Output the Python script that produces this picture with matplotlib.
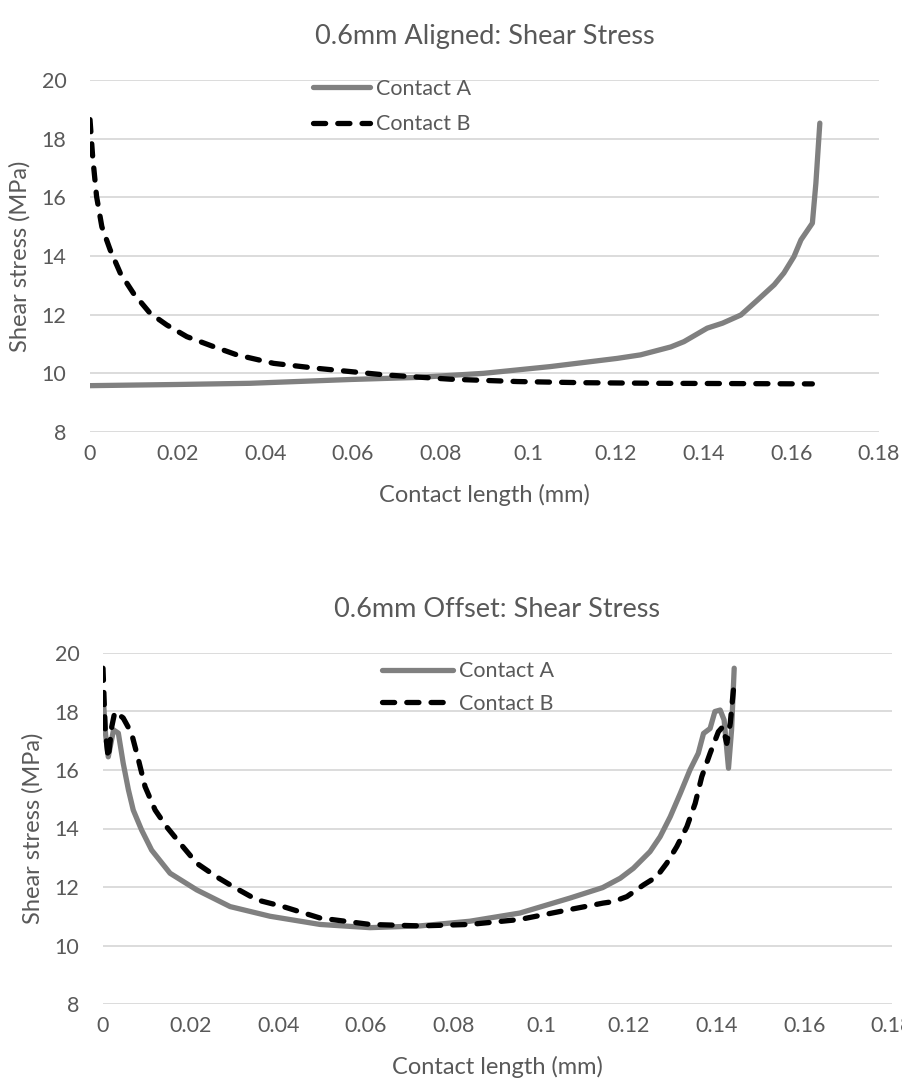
import matplotlib.pyplot as plt
import numpy as np

plt.rcParams['font.family'] = ['Lato', 'DejaVu Sans']

# 0.6mm Aligned
al_a_x = [0, 0.02, 0.0365, 0.0594, 0.0746, 0.0898, 0.105, 0.1203, 0.1256, 0.1325,
          0.1355, 0.1408, 0.1443, 0.1485, 0.1523, 0.1561, 0.1583, 0.1606, 0.1622,
          0.1648, 0.1656, 0.1665]
al_a_y = [9.58, 9.62, 9.66, 9.79, 9.86, 10.0, 10.23, 10.51, 10.63, 10.9,
          11.08, 11.54, 11.71, 11.99, 12.5, 13.02, 13.42, 13.98, 14.55,
          15.12, 16.48, 18.53]
al_b_x = [0, 0.0006, 0.0015, 0.0027, 0.0046, 0.0069, 0.0099, 0.0137, 0.0175, 0.0221,
          0.0282, 0.0335, 0.0419, 0.0518, 0.067, 0.0822, 0.0975, 0.1127, 0.1302, 0.1648]
al_b_y = [18.65, 17.4, 16.03, 15.0, 14.21, 13.42, 12.73, 12.05, 11.65, 11.25,
          10.91, 10.63, 10.34, 10.17, 9.95, 9.8, 9.72, 9.68, 9.66, 9.64]

# 0.6mm Offset
of_a_x = [0, 0.0006, 0.0012, 0.0024, 0.0035, 0.0046, 0.0058, 0.0069, 0.0088, 0.0111,
          0.0153, 0.0214, 0.029, 0.0381, 0.0495, 0.0609, 0.0723, 0.0837, 0.0951,
          0.1065, 0.114, 0.118, 0.121, 0.1248, 0.1271, 0.1294, 0.1317, 0.1339,
          0.1358, 0.137, 0.1385, 0.1396, 0.1408, 0.1417, 0.1427, 0.1434, 0.144]
of_a_y = [18.6, 17.2, 16.45, 17.37, 17.26, 16.24, 15.32, 14.63, 13.95, 13.26,
          12.47, 11.9, 11.33, 11.0, 10.72, 10.61, 10.67, 10.83, 11.11,
          11.62, 11.98, 12.3, 12.64, 13.21, 13.72, 14.4, 15.2, 16.0,
          16.57, 17.25, 17.42, 18.0, 18.05, 17.71, 16.06, 17.37, 19.48]
of_b_x = [0, 0.0005, 0.0012, 0.002, 0.0027, 0.0046, 0.0065, 0.0081, 0.0096, 0.0119,
          0.0145, 0.0176, 0.0214, 0.0259, 0.0297, 0.0351, 0.0411, 0.0495, 0.0609,
          0.0723, 0.0837, 0.0951, 0.1065, 0.1141, 0.1164, 0.1195, 0.1233, 0.1263,
          0.1286, 0.1309, 0.1332, 0.1351, 0.1366, 0.1385, 0.1404, 0.1414, 0.1423,
          0.1431, 0.144]
of_b_y = [19.48, 17.37, 16.4, 17.48, 17.99, 17.78, 17.26, 16.34, 15.43, 14.63,
          14.06, 13.49, 12.81, 12.35, 12.01, 11.56, 11.33, 10.94, 10.72,
          10.67, 10.72, 10.89, 11.23, 11.45, 11.5, 11.67, 12.07, 12.35,
          12.81, 13.38, 14.06, 14.86, 15.77, 16.57, 17.31, 17.48, 16.91,
          17.6, 19.02]

titles = ['0.6mm Aligned: Shear Stress', '0.6mm Offset: Shear Stress']
xticks = [0, 0.02, 0.04, 0.06, 0.08, 0.1, 0.12, 0.14, 0.16, 0.18]
xticklabels = ['0', '0.02', '0.04', '0.06', '0.08', '0.1', '0.12', '0.14', '0.16', '0.18']
yticks = [8, 10, 12, 14, 16, 18, 20]

txt = '#595959'
grey = '#808080'

fig = plt.figure(figsize=(9.03, 10.91), dpi=100)
ax1 = fig.add_axes([90 / 903, 1 - 432 / 1091, 789 / 903, 352 / 1091])
ax2 = fig.add_axes([103 / 903, 1 - 1004 / 1091, 789 / 903, 351 / 1091])

data = [(al_a_x, al_a_y, al_b_x, al_b_y), (of_a_x, of_a_y, of_b_x, of_b_y)]
# legend anchor, handle length, row spacing
leg_opts = [((0.283, 1.003), 2.65, 0.72), ((0.354, 0.977), 3.3, 0.58)]

for ax, (ax_, ay, bx, by), title, (lp, hl, ls) in zip([ax1, ax2], data, titles, leg_opts):
    ax.plot(ax_, ay, color=grey, lw=3.8, solid_capstyle='round', label='Contact A', zorder=3)
    ax.plot(bx, by, color='black', lw=3.8, dashes=(2.3, 2.3), dash_capstyle='round',
            label='Contact B', zorder=4)
    ax.set_xlim(0, 0.18)
    ax.set_ylim(8, 20)
    ax.set_xticks(xticks)
    ax.set_xticklabels(xticklabels)
    ax.set_yticks(yticks)
    ax.grid(axis='y', color='#d9d9d9', lw=1.3)
    ax.set_axisbelow(True)
    for s in ax.spines.values():
        s.set_visible(False)
    ax.tick_params(length=0, labelsize=15.5, colors=txt)
    ax.tick_params(axis='y', pad=17)
    ax.tick_params(axis='x', pad=9)
    ax.set_xlabel('Contact length (mm)', fontsize=17, color=txt, labelpad=14)
    ax.set_ylabel('Shear stress (MPa)', fontsize=17, color=txt, labelpad=8)
    ax.set_title(title, fontsize=19.5, color=txt, pad=26)
    ax.legend(loc='upper left', bbox_to_anchor=lp, frameon=False, fontsize=15.5,
              handlelength=hl, handletextpad=0.25, labelspacing=ls,
              borderaxespad=0, borderpad=0, labelcolor=txt)

fig.savefig('out.png', dpi=100)
